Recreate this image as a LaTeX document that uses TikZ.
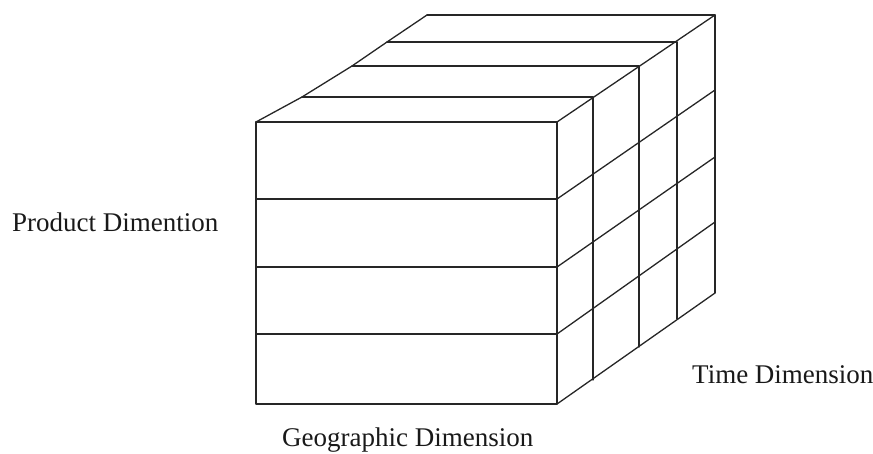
\documentclass[tikz,border=0pt]{standalone}
\usepackage{fontspec}
\setmainfont{Liberation Serif}
\begin{document}
\begin{tikzpicture}[x=1pt,y=-1pt,
  edge/.style={line width=1.3pt, draw=black!85, line cap=round, line join=round},
  lbl/.style={font=\fontsize{27}{30}\selectfont, inner sep=0pt, anchor=base west, text=black!90}]
\useasboundingbox (0,0) rectangle (873,454);
% front face
\draw[edge] (256,122) rectangle (557,404);
\draw[edge] (256,199) -- (557,199);
\draw[edge] (256,267) -- (557,267);
\draw[edge] (256,334) -- (557,334);
% top face
\draw[edge] (256,122) -- (302,97) -- (352,66) -- (387,42) -- (427,15);
\draw[edge] (302,97) -- (593,97);
\draw[edge] (352,66) -- (639,66);
\draw[edge] (387,42) -- (677,42);
\draw[edge] (427,15) -- (715,15);
\draw[edge] (557,122) -- (715,15);
% right face
\draw[edge] (593,97) -- (593,380);
\draw[edge] (639,66) -- (639,347);
\draw[edge] (677,42) -- (677,319);
\draw[edge] (715,15) -- (715,293);
\draw[edge] (557,199) -- (715,90);
\draw[edge] (557,267) -- (715,157);
\draw[edge] (557,334) -- (715,222);
\draw[edge] (557,404) -- (715,293);
% labels
\node[lbl] (prod) at (12,232) {Product Dimention};
\node[lbl] (time) at (692,383) {Time Dimension};
\node[lbl] (geo) at (282,446) {Geographic Dimension};
\end{tikzpicture}
\end{document}
